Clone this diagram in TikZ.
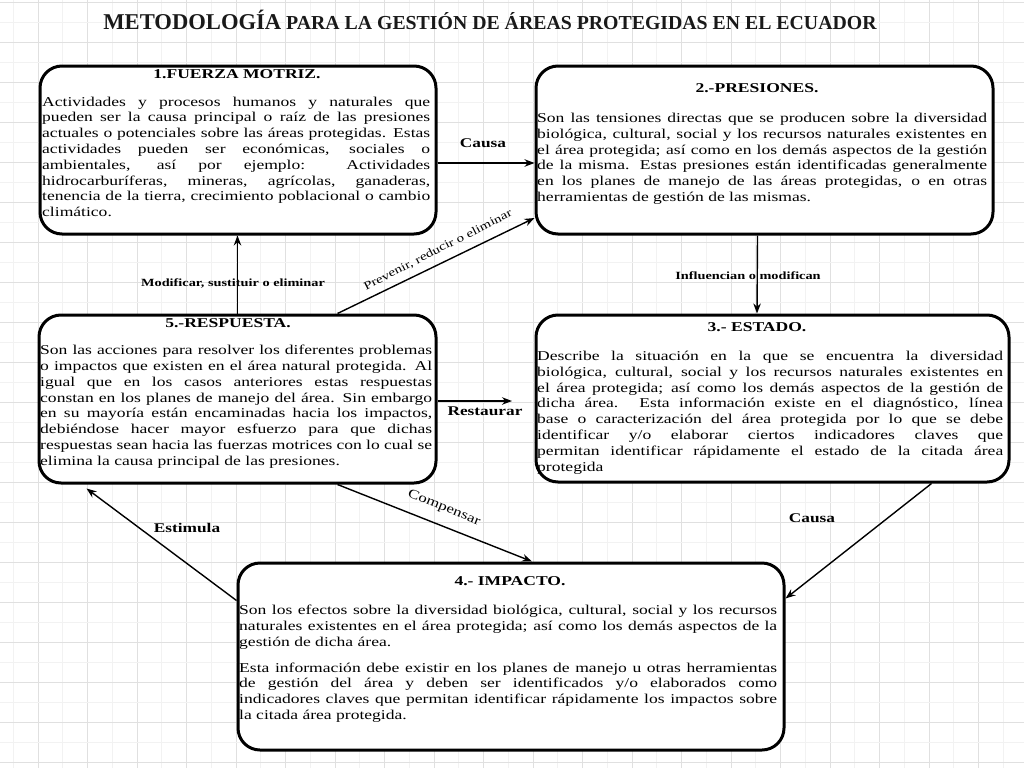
\documentclass[tikz,border=0pt]{standalone}
\usepackage{fontspec}
\setmainfont{Liberation Serif}
\newfontfamily\bodyfont{Liberation Serif}[FakeStretch=1.3]
\usetikzlibrary{arrows.meta,calc}
\tolerance=10000
\hyphenpenalty=10000
\exhyphenpenalty=10000
\tikzset{
  gmaj/.style={draw=gray!24, line width=0.7pt},
  gmin/.style={draw=gray!10, line width=0.6pt},
  box/.style={draw=black, line width=3pt, rounded corners=22pt, fill=white, inner sep=0pt},
  ttl/.style={font=\bodyfont\fontsize{13.5}{16}\selectfont\bfseries, inner sep=0pt},
  body/.style={font=\bodyfont\fontsize{13.5}{15.8}\selectfont, align=justify, inner sep=0pt, anchor=north west},
  arr/.style={line width=1.4pt, -{Stealth[length=10pt,width=7.5pt]}},
  lbl/.style={font=\bodyfont\fontsize{13.3}{15}\selectfont\bfseries, inner sep=0pt},
  slbl/.style={font=\bodyfont\fontsize{11}{13}\selectfont\bfseries, inner sep=0pt},
  rlbl/.style={font=\bodyfont\fontsize{11.5}{13}\selectfont, inner sep=0pt},
}
\begin{document}
\begin{tikzpicture}[x=1pt,y=-1pt]
\useasboundingbox (0,0) rectangle (1024,768);
\fill[white] (0,0) rectangle (1024,768);
\begin{scope}
\clip (0,0) rectangle (1024,768);
\foreach \i in {-1,...,20} {
  \draw[gmin] ({38+49.5*\i+24.75},0) -- ({38+49.5*\i+24.75},768);
  \draw[gmaj] ({38+49.5*\i},0) -- ({38+49.5*\i},768);
}
\foreach \j in {0,...,19} {
  \draw[gmin] (0,{22+40*\j}) -- (1024,{22+40*\j});
  \draw[gmaj] (0,{2+40*\j}) -- (1024,{2+40*\j});
}
\end{scope}

% title
\node[font=\fontsize{19.8}{22}\selectfont\bfseries, inner sep=0pt, text=black!90] (title) at (490,20)
  {{\fontsize{22.6}{24}\selectfont METODOLOGÍA} PARA LA GESTIÓN DE ÁREAS PROTEGIDAS EN EL ECUADOR};

% boxes
\node[box, minimum width=396pt, minimum height=168pt] (b1) at (238,150) {};
\node[box, minimum width=457pt, minimum height=168pt] (b2) at (764.5,150) {};
\node[box, minimum width=397pt, minimum height=168pt] (b5) at (237.5,399) {};
\node[box, minimum width=473pt, minimum height=167pt] (b3) at (772.5,398.5) {};
\node[box, minimum width=546pt, minimum height=187pt] (b4) at (511,656.5) {};

% titles
\node[ttl] (t1) at (237,74) {1.FUERZA MOTRIZ.};
\node[ttl] (t2) at (757,88) {2.-PRESIONES.};
\node[ttl] (t5) at (228,323) {5.-RESPUESTA.};
\node[ttl] (t3) at (757,327) {3.- ESTADO.};
\node[ttl] (t4) at (510,581) {4.- IMPACTO.};

% bodies
\node[body, text width=388pt] (x1) at (42,96.5) {Actividades y procesos humanos y naturales que\linebreak
pueden ser la causa principal o raíz de las presiones\linebreak
actuales o potenciales sobre las áreas protegidas. Estas\linebreak
actividades pueden ser económicas, sociales o\linebreak
ambientales, así por ejemplo: Actividades\linebreak
hidrocarburíferas, mineras, agrícolas, ganaderas,\linebreak
tenencia de la tierra, crecimiento poblacional o cambio\linebreak
climático.};

\node[body, text width=450pt] (x2) at (537,113) {Son las tensiones directas que se producen sobre la diversidad\linebreak
biológica, cultural, social y los recursos naturales existentes en\linebreak
el área protegida; así como en los demás aspectos de la gestión\linebreak
de la misma. Estas presiones están identificadas generalmente\linebreak
en los planes de manejo de las áreas protegidas, o en otras\linebreak
herramientas de gestión de las mismas.};

\node[body, text width=392pt] (x5) at (40,345) {Son las acciones para resolver los diferentes problemas\linebreak
o impactos que existen en el área natural protegida. Al\linebreak
igual que en los casos anteriores estas respuestas\linebreak
constan en los planes de manejo del área. Sin embargo\linebreak
en su mayoría están encaminadas hacia los impactos,\linebreak
debiéndose hacer mayor esfuerzo para que dichas\linebreak
respuestas sean hacia las fuerzas motrices con lo cual se\linebreak
elimina la causa principal de las presiones.};

\node[body, text width=466pt] (x3) at (537,351) {Describe la situación en la que se encuentra la diversidad\linebreak
biológica, cultural, social y los recursos naturales existentes en\linebreak
el área protegida; así como los demás aspectos de la gestión de\linebreak
dicha área. Esta información existe en el diagnóstico, línea\linebreak
base o caracterización del área protegida por lo que se debe\linebreak
identificar y/o elaborar ciertos indicadores claves que\linebreak
permitan identificar rápidamente el estado de la citada área\linebreak
protegida};

\node[body, text width=538pt] (x4) at (239,605) {Son los efectos sobre la diversidad biológica, cultural, social y los recursos\linebreak
naturales existentes en el área protegida; así como los demás aspectos de la\linebreak
gestión de dicha área.\par\vspace{10pt}
Esta información debe existir en los planes de manejo u otras herramientas\linebreak
de gestión del área y deben ser identificados y/o elaborados como\linebreak
indicadores claves que permitan identificar rápidamente los impactos sobre\linebreak
la citada área protegida.};

% connectors
\draw[arr] ($(b1.east)+(0,13)$) -- ($(b2.west)+(0,13)$);
\node[lbl] (lcausa1) at (483,143) {Causa};

\draw[arr] (b5.north) -- (b5.north |- b1.south);
\node[slbl] (lmod) at (233,283) {Modificar, sustituir o eliminar};

\draw[arr] ($(b5.north)+(100,0)$) -- ($(b2.west)+(0,68)$);
\node[rlbl, rotate=27] (lprev) at (438,250) {Prevenir, reducir o eliminar};

\draw[arr] ($(b2.south)+(-7,0)$) -- ($(b3.north)+(-15.5,0)$);
\node[slbl] (linf) at (748,276) {Influencian o modifican};

\coordinate (rend) at (512,401);
\draw[arr] ($(b5.east)+(0,2)$) -- (rend);
\node[lbl] (lrest) at (485,411) {Restaurar};

\draw[arr] ($(b5.south)+(100,0)$) -- ($(b4.north)+(21,0)$);
\node[rlbl, font=\bodyfont\fontsize{13}{15}\selectfont, rotate=-22] (lcomp) at (444,508) {Compensar};

\draw[arr] ($(b4.west)+(0,-56)$) -- ($(b5.south west)+(49,4)$);
\node[lbl] (lest) at (187,528) {Estimula};

\draw[arr] ($(b3.south)+(159,0)$) -- ($(b4.east)+(0,-58)$);
\node[lbl] (lcausa2) at (812,518) {Causa};
\end{tikzpicture}
\end{document}
